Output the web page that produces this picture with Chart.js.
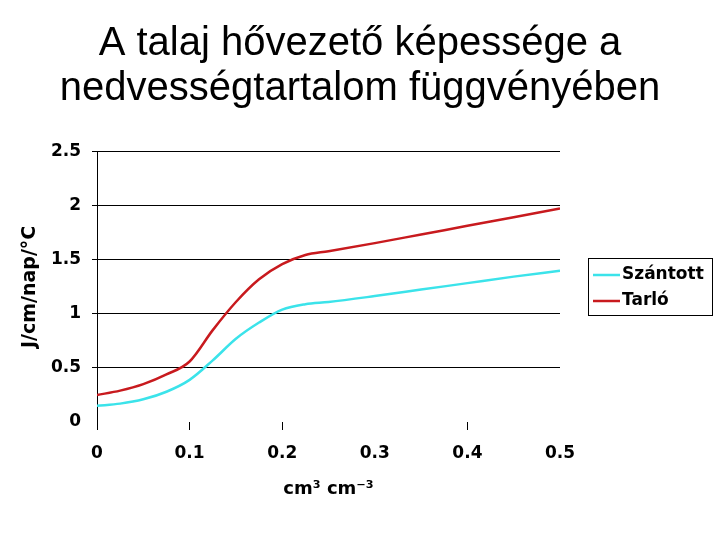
<!DOCTYPE html>
<html>
<head>
<meta charset="utf-8">
<script src="https://cdn.jsdelivr.net/npm/chart.js@4/dist/chart.umd.min.js"></script>
<style>
  html, body { margin: 0; padding: 0; background: #fff; }
</style>
</head>
<body>
<canvas id="chart" width="720" height="540"></canvas>
<script>
// values
const moisture = [0, 0.025, 0.05, 0.075, 0.1, 0.125, 0.15, 0.175, 0.2, 0.225, 0.25, 0.3, 0.35, 0.4, 0.45, 0.5];
const szantott = [0.15, 0.17, 0.21, 0.28, 0.39, 0.57, 0.77, 0.92, 1.04, 1.09, 1.11, 1.165, 1.225, 1.285, 1.345, 1.40];
const tarlo    = [0.25, 0.29, 0.35, 0.44, 0.56, 0.85, 1.11, 1.32, 1.46, 1.545, 1.58, 1.655, 1.735, 1.815, 1.895, 1.975];
const seriesNames = ['Szántott', 'Tarló'];
const seriesColors = ['#3be3ea', '#c81a1e'];
const titleLines = ['A talaj hővezető képessége a', 'nedvességtartalom függvényében'];
const yTitle = 'J/cm/nap/°C';
const xTitle = 'cm³ cm⁻³';

const toPoints = (ys) => ys.map((y, i) => ({ x: moisture[i], y: y }));
const tickFont = { family: 'DejaVu Sans', weight: 'bold', size: 17 };
const noColor = 'rgba(0,0,0,0)';

// legend with a frame, drawn to the right of the plot
const boxedLegend = {
  id: 'boxedLegend',
  afterDraw(chart) {
    const ctx = chart.ctx;
    const x0 = 588, y0 = 258, w = 124, h = 57;
    ctx.save();
    ctx.strokeStyle = '#000';
    ctx.lineWidth = 1;
    ctx.strokeRect(x0 + 0.5, y0 + 0.5, w, h);
    ctx.font = 'bold 17px "DejaVu Sans"';
    ctx.textBaseline = 'middle';
    chart.data.datasets.forEach((ds, i) => {
      const cy = y0 + 17 + i * 26;
      ctx.strokeStyle = ds.borderColor;
      ctx.lineWidth = 2.5;
      ctx.beginPath();
      ctx.moveTo(x0 + 5, cy);
      ctx.lineTo(x0 + 32, cy);
      ctx.stroke();
      ctx.fillStyle = '#000';
      ctx.fillText(ds.label, x0 + 34, cy);
    });
    ctx.restore();
  }
};

new Chart(document.getElementById('chart'), {
  type: 'scatter',
  data: {
    datasets: [
      { label: seriesNames[0], data: toPoints(szantott), borderColor: seriesColors[0], backgroundColor: seriesColors[0] },
      { label: seriesNames[1], data: toPoints(tarlo), borderColor: seriesColors[1], backgroundColor: seriesColors[1] }
    ]
  },
  options: {
    responsive: false,
    animation: false,
    showLine: true,
    layout: { padding: 0 },
    elements: {
      point: { radius: 0 },
      line: { borderWidth: 2.5, tension: 0.4, cubicInterpolationMode: 'monotone' }
    },
    scales: {
      x: {
        type: 'linear',
        min: 0, max: 0.5,
        afterFit(scale) { scale.height = 118; },
        border: { display: false },
        grid: {
          drawOnChartArea: false,
          drawTicks: true,
          tickLength: 8,
          color: (c) => (c.tick && (Math.abs(c.tick.value - 0.3) < 1e-6 || Math.abs(c.tick.value - 0.5) < 1e-6)) ? noColor : '#000'
        },
        ticks: {
          stepSize: 0.1, color: '#000', font: tickFont, padding: 13, maxRotation: 0,
          callback: (v) => String(Math.round(v * 10) / 10)
        },
        title: { display: true, text: xTitle, color: '#000', font: { family: 'DejaVu Sans', weight: 'bold', size: 18 }, padding: { top: 0, bottom: 40 } }
      },
      y: {
        min: 0, max: 2.5,
        afterFit(scale) { scale.width = 97; },
        border: { display: true, color: '#000', width: 1 },
        grid: {
          color: (c) => (c.tick && c.tick.value === 0) ? noColor : '#000',
          lineWidth: 1,
          tickLength: 5
        },
        ticks: {
          stepSize: 0.5, color: '#000', font: tickFont, padding: 11,
          callback: (v) => String(v)
        },
        title: { display: true, text: yTitle, color: '#000', font: { family: 'DejaVu Sans', weight: 'bold', size: 19 }, padding: { top: 19, bottom: 0 } }
      },
      // empty right-hand scale that reserves the room where the legend sits
      side: {
        position: 'right',
        afterFit(scale) { scale.width = 160; },
        border: { display: false },
        grid: { display: false },
        ticks: { display: false }
      }
    },
    plugins: {
      legend: { display: false },
      tooltip: { enabled: false },
      title: {
        display: true,
        text: titleLines,
        color: '#000',
        font: { family: 'Liberation Sans', weight: 'normal', size: 40, lineHeight: 1.135 },
        padding: { top: 21, bottom: 40 }
      }
    }
  },
  plugins: [boxedLegend]
});
</script>
</body>
</html>
